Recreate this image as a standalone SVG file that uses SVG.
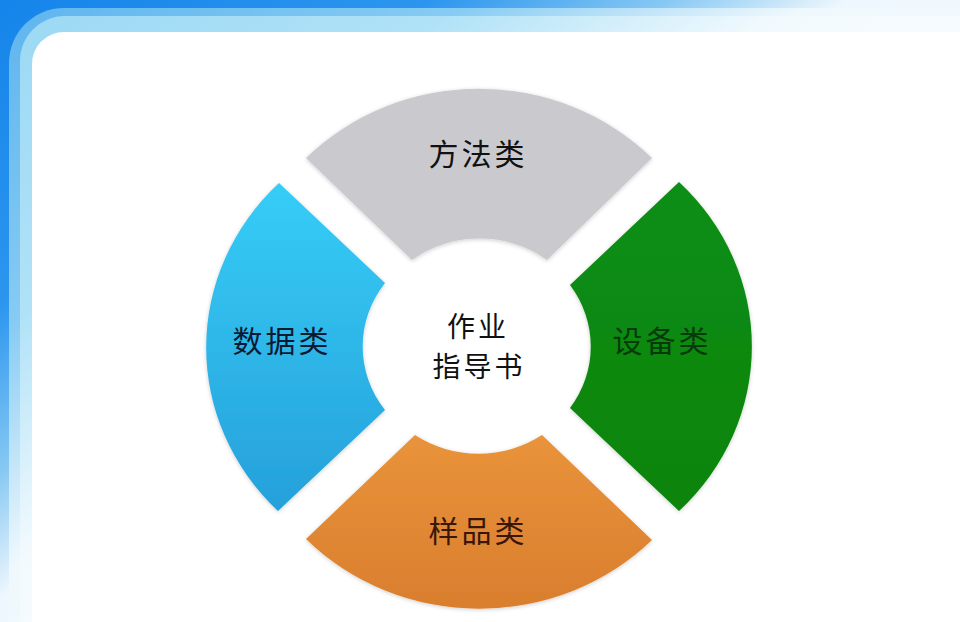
<svg xmlns="http://www.w3.org/2000/svg" width="960" height="622" viewBox="0 0 960 622">
<defs>
<linearGradient id="bgDark" gradientUnits="userSpaceOnUse" x1="0" y1="0" x2="600" y2="850">
<stop offset="0" stop-color="#1584EA"/>
<stop offset="0.24" stop-color="#2C96EE"/>
<stop offset="0.37" stop-color="#86C8F3"/>
<stop offset="0.47" stop-color="#EEF7FD"/>
<stop offset="1" stop-color="#FFFFFF"/>
</linearGradient>
<linearGradient id="bgMid" gradientUnits="userSpaceOnUse" x1="0" y1="0" x2="600" y2="850">
<stop offset="0" stop-color="#5DB4EE"/>
<stop offset="0.26" stop-color="#86CBF3"/>
<stop offset="0.45" stop-color="#EEF8FD"/>
<stop offset="1" stop-color="#FFFFFF"/>
</linearGradient>
<linearGradient id="bgLight" gradientUnits="userSpaceOnUse" x1="0" y1="0" x2="600" y2="850">
<stop offset="0" stop-color="#9AD8F4"/>
<stop offset="0.26" stop-color="#B0E2F7"/>
<stop offset="0.45" stop-color="#F3FAFE"/>
<stop offset="1" stop-color="#FFFFFF"/>
</linearGradient>
<linearGradient id="gBlue" x1="0" y1="0" x2="0" y2="1">
<stop offset="0" stop-color="#36CDF7"/>
<stop offset="1" stop-color="#26A0DA"/>
</linearGradient>
<linearGradient id="gGreen" x1="0" y1="0" x2="0" y2="1">
<stop offset="0" stop-color="#0B8E13"/>
<stop offset="1" stop-color="#08840F"/>
</linearGradient>
<linearGradient id="gOrange" x1="0" y1="0" x2="0" y2="1">
<stop offset="0" stop-color="#E9933B"/>
<stop offset="1" stop-color="#D97E2E"/>
</linearGradient>
<filter id="soft" x="-10%" y="-10%" width="120%" height="120%">
<feGaussianBlur in="SourceAlpha" stdDeviation="2"/>
<feOffset dy="1"/>
<feComponentTransfer><feFuncA type="linear" slope="0.2"/></feComponentTransfer>
<feMerge><feMergeNode/><feMergeNode in="SourceGraphic"/></feMerge>
</filter>
</defs>
<style>
.lbl{font-family:"Noto Sans CJK SC","Noto Sans CJK TC",sans-serif;font-size:30px;text-anchor:middle;letter-spacing:3px}
.ctr{font-size:28px}
</style>
<g id="background">
<rect x="0" y="0" width="960" height="622" fill="url(#bgDark)"/>
<rect x="9" y="8" width="1000" height="700" rx="55" fill="url(#bgMid)"/>
<rect x="20" y="16" width="1000" height="700" rx="45" fill="url(#bgLight)"/>
<rect x="32" y="32" width="1000" height="700" rx="32" fill="#FFFFFF"/>
</g>
<g id="connectors"/>
<g id="node-method">
<path d="M306,158 A242,230 0 0 1 652,158 L547,260 A112,106 0 0 0 412,260 Z" fill="#CAC9CE" filter="url(#soft)"/>
<text class="lbl" x="478" y="165" fill="#111111">方法类</text>
</g>
<g id="node-equipment">
<path d="M679,182 A242,230 0 0 1 679,511 L570,408 A112,106 0 0 0 570,285 Z" fill="url(#gGreen)" filter="url(#soft)"/>
<text class="lbl" x="662" y="352" fill="#053B0A">设备类</text>
</g>
<g id="node-data">
<path d="M278,511 A242,230 0 0 1 279,183 L385,283 A112,106 0 0 0 385,410 Z" fill="url(#gBlue)" filter="url(#soft)"/>
<text class="lbl" x="282" y="352" fill="#0B1A33">数据类</text>
</g>
<g id="node-sample">
<path d="M652,540 A242,230 0 0 1 306,539 L415,435 A112,106 0 0 0 542,435 Z" fill="url(#gOrange)" filter="url(#soft)"/>
<text class="lbl" x="478" y="542" fill="#3B1608">样品类</text>
</g>
<g id="node-center">
<text class="lbl ctr" x="478" y="337" fill="#111111">作业</text>
<text class="lbl ctr" x="479" y="377" fill="#111111">指导书</text>
</g>
</svg>
